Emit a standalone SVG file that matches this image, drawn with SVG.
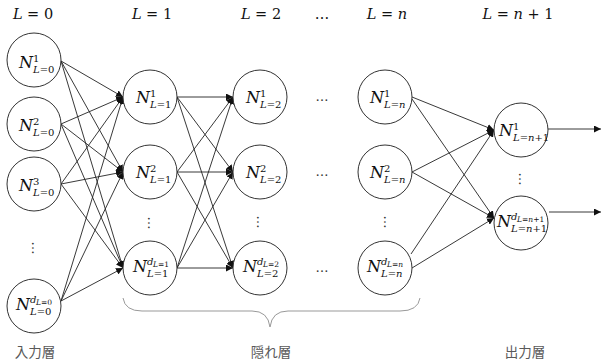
<svg xmlns="http://www.w3.org/2000/svg" width="601" height="363" viewBox="0 0 601 363">
  <style>
    .node { fill: #fff; stroke: #333; stroke-width: 1; }
    .edge { stroke: #222; stroke-width: 0.9; fill: none; marker-end: url(#arr); }
    .m { fill: #111; }
    .i { font-style: italic; }
    .big { font-size: 16px; }
    .sm { font-size: 10px; }
    .xs { font-size: 7.5px; }
    .hdr { font-size: 14.5px; text-anchor: middle; }
    .dots { font-size: 13px; fill: #333; }
    .jp { font-family: 'Noto Sans CJK JP', sans-serif; font-size: 13.5px; fill: #595959; }
    .brace { stroke: #999; stroke-width: 1; fill: none; }
  </style>
  <defs>
    <marker id="arr" viewBox="0 0 10 10" refX="10" refY="5" markerWidth="7" markerHeight="7" markerUnits="userSpaceOnUse" orient="auto">
      <path d="M0,0 L10,5 L0,10 z" fill="#111"/>
    </marker>
  </defs>

  <!-- layer headers -->
  <g id="headers" class="m hdr" font-family="DejaVu Serif, Liberation Serif, serif">
    <text x="33" y="19"><tspan class="i">L</tspan> = 0</text>
    <text x="152" y="19"><tspan class="i">L</tspan> = 1</text>
    <text x="261" y="19"><tspan class="i">L</tspan> = 2</text>
    <text x="322" y="19">…</text>
    <text x="387" y="19"><tspan class="i">L</tspan> = <tspan class="i">n</tspan></text>
    <text x="518" y="19"><tspan class="i">L</tspan> = <tspan class="i">n</tspan> + 1</text>
  </g>

  <!-- connectors -->
  <g id="connectors">
    <!-- input layer to first hidden layer -->
    <line class="edge" x1="61" y1="61" x2="123" y2="97"/>
    <line class="edge" x1="61" y1="61" x2="123" y2="172"/>
    <line class="edge" x1="61" y1="61" x2="123" y2="268"/>
    <line class="edge" x1="61" y1="124" x2="123" y2="97"/>
    <line class="edge" x1="61" y1="124" x2="123" y2="172"/>
    <line class="edge" x1="61" y1="124" x2="123" y2="268"/>
    <line class="edge" x1="61" y1="184" x2="123" y2="97"/>
    <line class="edge" x1="61" y1="184" x2="123" y2="172"/>
    <line class="edge" x1="61" y1="184" x2="123" y2="268"/>
    <line class="edge" x1="61" y1="301" x2="123" y2="97"/>
    <line class="edge" x1="61" y1="301" x2="123" y2="172"/>
    <line class="edge" x1="61" y1="301" x2="123" y2="268"/>
    <!-- first hidden layer to second hidden layer -->
    <line class="edge" x1="177" y1="97" x2="233" y2="97"/>
    <line class="edge" x1="177" y1="97" x2="233" y2="172"/>
    <line class="edge" x1="177" y1="97" x2="233" y2="268"/>
    <line class="edge" x1="177" y1="172" x2="233" y2="97"/>
    <line class="edge" x1="177" y1="172" x2="233" y2="172"/>
    <line class="edge" x1="177" y1="172" x2="233" y2="268"/>
    <line class="edge" x1="177" y1="268" x2="233" y2="97"/>
    <line class="edge" x1="177" y1="268" x2="233" y2="172"/>
    <line class="edge" x1="177" y1="268" x2="233" y2="268"/>
    <!-- last hidden layer to output layer -->
    <line class="edge" x1="412" y1="97" x2="494" y2="130"/>
    <line class="edge" x1="412" y1="99" x2="494" y2="218"/>
    <line class="edge" x1="412" y1="172" x2="494" y2="130"/>
    <line class="edge" x1="412" y1="172" x2="494" y2="218"/>
    <line class="edge" x1="411" y1="254" x2="494" y2="130"/>
    <line class="edge" x1="412" y1="268" x2="494" y2="218"/>
    <!-- outputs -->
    <line class="edge" x1="548" y1="129" x2="601" y2="129"/>
    <line class="edge" x1="549" y1="212" x2="601" y2="212"/>
  </g>

  <g id="nodes" font-family="DejaVu Serif, Liberation Serif, serif">
  <!-- input layer -->
  <g id="n0_1"><circle class="node" cx="34" cy="60" r="27"/>
    <text class="m i big" x="19" y="68">N</text><text class="m sm" x="33" y="62">1</text><text class="m i sm" x="33" y="73">L<tspan font-style="normal">=0</tspan></text></g>
  <g id="n0_2"><circle class="node" cx="34" cy="124" r="27"/>
    <text class="m i big" x="19" y="131">N</text><text class="m sm" x="33" y="125">2</text><text class="m i sm" x="33" y="136">L<tspan font-style="normal">=0</tspan></text></g>
  <g id="n0_3"><circle class="node" cx="34" cy="184" r="27"/>
    <text class="m i big" x="19" y="191">N</text><text class="m sm" x="33" y="185">3</text><text class="m i sm" x="33" y="196">L<tspan font-style="normal">=0</tspan></text></g>
  <g id="n0_d"><circle class="node" cx="34" cy="306" r="27"/>
    <text class="m i big" x="16" y="310">N</text><text class="m i sm" x="30" y="303">d</text><text class="m i xs" x="36" y="305">L<tspan font-style="normal">=0</tspan></text><text class="m i sm" x="30" y="315">L<tspan font-style="normal">=0</tspan></text></g>
  <text class="dots" x="35" y="251" text-anchor="middle" transform="rotate(90 35 248)">…</text>

  <!-- hidden layer 1 -->
  <g id="n1_1"><circle class="node" cx="150" cy="97" r="27"/>
    <text class="m i big" x="136" y="103">N</text><text class="m sm" x="150" y="97">1</text><text class="m i sm" x="150" y="108">L<tspan font-style="normal">=1</tspan></text></g>
  <g id="n1_2"><circle class="node" cx="150" cy="172" r="27"/>
    <text class="m i big" x="136" y="178">N</text><text class="m sm" x="150" y="172">2</text><text class="m i sm" x="150" y="183">L<tspan font-style="normal">=1</tspan></text></g>
  <g id="n1_d"><circle class="node" cx="150" cy="268" r="27"/>
    <text class="m i big" x="133" y="272">N</text><text class="m i sm" x="147" y="265">d</text><text class="m i xs" x="153" y="267">L<tspan font-style="normal">=1</tspan></text><text class="m i sm" x="147" y="277">L<tspan font-style="normal">=1</tspan></text></g>
  <text class="dots" x="151" y="226" text-anchor="middle" transform="rotate(90 151 223)">…</text>

  <!-- hidden layer 2 -->
  <g id="n2_1"><circle class="node" cx="260" cy="97" r="27"/>
    <text class="m i big" x="246" y="103">N</text><text class="m sm" x="260" y="97">1</text><text class="m i sm" x="260" y="108">L<tspan font-style="normal">=2</tspan></text></g>
  <g id="n2_2"><circle class="node" cx="260" cy="172" r="27"/>
    <text class="m i big" x="246" y="178">N</text><text class="m sm" x="260" y="172">2</text><text class="m i sm" x="260" y="183">L<tspan font-style="normal">=2</tspan></text></g>
  <g id="n2_d"><circle class="node" cx="260" cy="268" r="27"/>
    <text class="m i big" x="243" y="272">N</text><text class="m i sm" x="257" y="265">d</text><text class="m i xs" x="263" y="267">L<tspan font-style="normal">=2</tspan></text><text class="m i sm" x="257" y="277">L<tspan font-style="normal">=2</tspan></text></g>
  <text class="dots" x="260" y="225" text-anchor="middle" transform="rotate(90 260 222)">…</text>

  <!-- horizontal ellipses between hidden layers -->
  <text class="dots" x="322" y="101" text-anchor="middle">…</text>
  <text class="dots" x="322" y="176" text-anchor="middle">…</text>
  <text class="dots" x="322" y="272" text-anchor="middle">…</text>

  <!-- hidden layer n -->
  <g id="nn_1"><circle class="node" cx="385" cy="97" r="27"/>
    <text class="m i big" x="370" y="103">N</text><text class="m sm" x="384" y="97">1</text><text class="m i sm" x="384" y="108">L<tspan font-style="normal">=</tspan>n</text></g>
  <g id="nn_2"><circle class="node" cx="385" cy="172" r="27"/>
    <text class="m i big" x="370" y="178">N</text><text class="m sm" x="384" y="172">2</text><text class="m i sm" x="384" y="183">L<tspan font-style="normal">=</tspan>n</text></g>
  <g id="nn_d"><circle class="node" cx="385" cy="268" r="27"/>
    <text class="m i big" x="367" y="272">N</text><text class="m i sm" x="381" y="265">d</text><text class="m i xs" x="387" y="267">L<tspan font-style="normal">=</tspan>n</text><text class="m i sm" x="381" y="277">L<tspan font-style="normal">=</tspan>n</text></g>
  <text class="dots" x="387" y="225" text-anchor="middle" transform="rotate(90 387 222)">…</text>

  <!-- output layer -->
  <g id="out_1"><circle class="node" cx="521" cy="130" r="27"/>
    <text class="m i big" x="499" y="136">N</text><text class="m sm" x="513" y="130">1</text><text class="m i sm" x="513" y="141">L<tspan font-style="normal">=</tspan>n<tspan font-style="normal">+1</tspan></text></g>
  <g id="out_d"><circle class="node" cx="521" cy="223" r="27"/>
    <text class="m i big" x="497" y="227">N</text><text class="m i sm" x="511" y="220">d</text><text class="m i xs" x="517" y="222">L<tspan font-style="normal">=</tspan>n<tspan font-style="normal">+1</tspan></text><text class="m i sm" x="511" y="232">L<tspan font-style="normal">=</tspan>n<tspan font-style="normal">+1</tspan></text></g>
  <text class="dots" x="522" y="182" text-anchor="middle" transform="rotate(90 522 179)">…</text>
  </g>

  <!-- hidden-layer brace -->
  <path class="brace" d="M123,298 Q125,311 142,311 L252,311 Q268,311 270,327 Q272,311 288,311 L400,311 Q418,311 420,298"/>

  <!-- layer names -->
  <text class="jp" x="35" y="357" text-anchor="middle">入力層</text>
  <text class="jp" x="271" y="357" text-anchor="middle">隠れ層</text>
  <text class="jp" x="525" y="357" text-anchor="middle">出力層</text>
</svg>
